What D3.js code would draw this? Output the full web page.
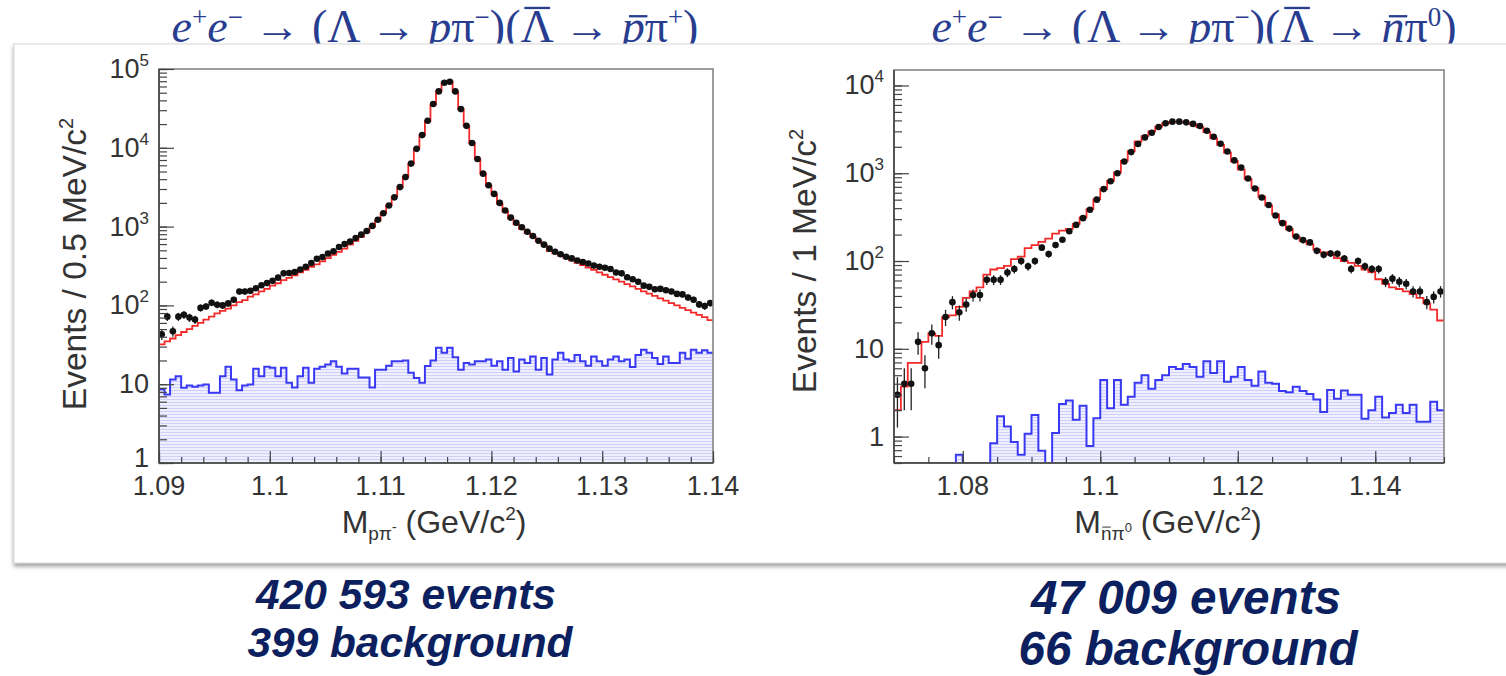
<!DOCTYPE html>
<html>
<head>
<meta charset="utf-8">
<script src="https://cdn.jsdelivr.net/npm/d3@7"></script>
<style>
body { margin: 0; background: #fff; }
svg text { font-family: "Liberation Sans", Arial, Helvetica, sans-serif; }
</style>
</head>
<body>
<div id="chart"></div>
<script>
// ---------- data ----------
// left: M(p pi-), 0.5 MeV bins
var leftRange = [1.09, 1.14];
var leftData = [43, 72, 47, 72, 76, 70, 66, 93, 97, 108,
    102, 100, 106, 118, 150, 150, 153, 165, 180, 192,
    205, 225, 255, 258, 265, 285, 310, 345, 390, 410,
    455, 485, 550, 600, 645, 715, 790, 880, 1020, 1220,
    1480, 1850, 2350, 3170, 4250, 6300, 9700, 14500, 22000, 36000,
    52000, 67000, 69000, 52000, 31000, 19000, 11500, 7200, 4700, 3350,
    2600, 2000, 1600, 1300, 1120, 980, 860, 760, 660, 590,
    525, 480, 445, 415, 395, 372, 355, 340, 320, 310,
    300, 290, 262, 255, 228, 215, 200, 178, 172, 160,
    162, 156, 150, 140, 138, 126, 118, 103, 98, 107];
var leftFit = [32, 35, 38, 42, 46, 50, 55, 60, 66, 72,
    79, 85, 91, 100, 110, 117, 129, 138, 151, 162,
    178, 191, 209, 224, 240, 263, 282, 309, 331, 363,
    398, 437, 479, 525, 589, 661, 741, 851, 1000, 1200,
    1480, 1860, 2400, 3160, 4270, 6300, 9770, 14500, 21900, 35500,
    52500, 67600, 69200, 51300, 30900, 19000, 11500, 7200, 4700, 3300,
    2570, 1950, 1550, 1260, 1070, 930, 830, 740, 660, 590,
    490, 457, 427, 398, 372, 347, 324, 302, 282, 263,
    245, 229, 214, 200, 186, 174, 162, 151, 141, 132,
    123, 115, 107, 100, 93, 87, 81, 76, 71, 65];
var leftBkg = [8.6, 7.4, 11.5, 12.6, 9.0, 9.6, 9.3, 9.6, 9.9, 7.8,
    7.8, 12.6, 16.6, 11.5, 8.4, 9.6, 9.9, 15.7, 12.6, 16.6,
    16.2, 12.6, 16.2, 10.4, 9.1, 12.6, 16.2, 10.4, 15.7, 16.6,
    17.8, 19.5, 16.6, 13.7, 15.7, 15.7, 12.2, 12.2, 9.1, 15.3,
    15.3, 17.2, 19.5, 19.5, 20, 14, 12, 10.4, 17, 20,
    29, 25, 29, 22, 15.3, 18.6, 17.8, 19.5, 19.5, 20.6,
    17.2, 19.5, 15.3, 21.5, 14.5, 20.6, 18.6, 22.5, 15.3, 21.5,
    13.3, 20.6, 25, 20.6, 19.5, 23.5, 19.5, 17.2, 22.5, 19.5,
    17.2, 20.6, 22.5, 19.5, 20.6, 16.5, 23.5, 27.4, 25, 21.5,
    18, 22.5, 18.6, 18.6, 25, 21, 27.4, 25, 27, 25];
var leftXTicks = [1.09, 1.10, 1.11, 1.12, 1.13, 1.14];
var leftYTicks = [1, 10, 100, 1000, 10000, 100000];

// right: M(nbar pi0), 1 MeV bins
var rightRange = [1.07, 1.15];
var rightData = [3, 4, 4, 12, 6, 15, 11, 23, 34, 26,
    32, 41, 41, 61, 61, 61, 74, 81, 100, 87,
    100, 142, 120, 152, 175, 218, 258, 308, 383, 500,
    660, 810, 1000, 1360, 1740, 2150, 2560, 2890, 3360, 3700,
    3870, 3870, 3800, 3650, 3450, 3050, 2600, 2170, 1770, 1400,
    1160, 870, 670, 530, 435, 330, 270, 234, 190, 173,
    163, 131, 118, 122, 121, 107, 81, 100, 87, 81,
    81, 58, 63, 58, 55, 45, 45, 34, 39, 45];
var rightFit = [2.0, 3.7, 6.9, 6.9, 12, 15, 14, 23, 24, 30,
    38, 45, 50, 70, 80, 83, 88, 105, 112, 140,
    152, 165, 180, 205, 222, 232, 265, 315, 390, 505,
    660, 820, 1020, 1380, 1780, 2300, 2650, 3000, 3400, 3700,
    3850, 3850, 3780, 3600, 3350, 2950, 2500, 2100, 1720, 1370,
    1100, 860, 680, 540, 430, 340, 280, 230, 190, 170,
    155, 135, 125, 118, 108, 100, 95, 88, 80, 75,
    62, 55, 50, 48, 45, 42, 38, 33, 28, 21];
var rightBkg = [0, 0, 0, 0, 0, 0, 0, 0, 0, 0.62,
    0, 0, 0, 0, 0.84, 1.7, 1.3, 0.87, 0.62, 1.08,
    1.76, 0.69, 0, 1.1, 2.35, 2.57, 1.55, 2.24, 0.78, 1.62,
    4.4, 2.1, 4.4, 2.3, 2.85, 4.1, 5.0, 3.5, 4.4, 5.0,
    6.2, 5.9, 6.7, 6.2, 4.8, 7.2, 5.3, 7.2, 4.2, 4.8,
    6.2, 4.4, 3.8, 5.5, 4.1, 4.0, 3.3, 3.2, 3.7, 3.3,
    3.05, 2.65, 1.9, 3.4, 2.7, 3.35, 3.0, 3.0, 1.6, 2.0,
    2.85, 1.65, 1.85, 2.3, 1.85, 2.3, 1.48, 1.48, 2.5, 2.0];
var rightXTicks = [1.08, 1.10, 1.12, 1.14];
var rightYTicks = [1, 10, 100, 1000, 10000];

var navy = "#0c1f5e";
var titleBlue = "#283d8f";

var svg = d3.select("#chart")
    .append("svg")
    .attr("width", 1506)
    .attr("height", 676);

var defs = svg.append("defs");
var hatch = defs.append("pattern")
    .attr("id", "hatch")
    .attr("patternUnits", "userSpaceOnUse")
    .attr("width", 6)
    .attr("height", 3);
hatch.append("rect").attr("width", 6).attr("height", 3).attr("fill", "#efeffe");
hatch.append("line").attr("x1", 0).attr("x2", 6).attr("y1", 0.5).attr("y2", 0.5)
    .attr("stroke", "#cfcffa").attr("stroke-width", 1);

var shadow = defs.append("filter").attr("id", "shadow")
    .attr("x", "-2%").attr("y", "-2%").attr("width", "104%").attr("height", "106%");
shadow.append("feDropShadow").attr("dx", 0).attr("dy", 3).attr("stdDeviation", 2)
    .attr("flood-color", "#777").attr("flood-opacity", 0.7);

// rich text: parts = [text, size, baseline shift, italic, bar height (em) or 0]
// bars are drawn after layout, from the glyph positions
function rich(sel, parts, color) {
    var prev = 0;
    var bars = [];
    parts.forEach(function (p) {
        var t = sel.append("tspan")
            .attr("font-size", p[1])
            .attr("dy", p[2] - prev)
            .text(p[0]);
        if (p[3]) t.attr("font-style", "italic");
        if (p[4]) bars.push({ node: t.node(), size: p[1], h: p[4], slant: p[3] ? 0.1 : 0 });
        prev = p[2];
    });
    var parent = d3.select(sel.node().parentNode);
    bars.forEach(function (b) {
        var s = b.node.getStartPositionOfChar(0);
        var e = b.node.getEndPositionOfChar(0);
        var w = e.x - s.x;
        var yb = s.y - b.h * b.size;
        var off = b.slant * b.size;
        parent.append("line")
            .attr("x1", s.x + 0.12 * w + off).attr("x2", e.x - 0.08 * w + off)
            .attr("y1", yb).attr("y2", yb)
            .attr("stroke", color).attr("stroke-width", Math.max(1, b.size * 0.05));
    });
}

// ---- titles above the panel (bottom part hidden by it)
var titleLayer = svg.append("g");
function title(cx, last) {
    var t = titleLayer.append("text")
        .attr("x", cx).attr("y", 42)
        .attr("text-anchor", "middle")
        .attr("fill", titleBlue)
        .style("font-family", "'Liberation Serif', 'DejaVu Serif', serif");
    rich(t, [["e", 46, 0, true], ["+", 27, -16], ["e", 46, 0, true], ["\u2212", 27, -16],
        ["  \u2192  (\u039B \u2192 ", 46, 0], ["p", 46, 0, true], ["\u03C0", 46, 0], ["\u2212", 27, -16],
        [")(", 46, 0], ["\u039B", 46, 0, false, 0.74], [" \u2192 ", 46, 0],
        [last[0], 46, 0, true, 0.56], ["\u03C0", 46, 0], [last[1], 27, -16],
        [")", 46, 0]], titleBlue);
}
title(435, ["p", "+"]);
title(1194, ["n", "0"]);

// ---- white panel
svg.append("rect")
    .attr("x", 14).attr("y", 44)
    .attr("width", 1520).attr("height", 519)
    .attr("fill", "#fff")
    .attr("stroke", "#dadada")
    .attr("filter", "url(#shadow)");

function drawPlot(o) {
    var g = svg.append("g");
    var x = d3.scaleLinear().domain(o.range).range([o.x0, o.x1]);
    var y = d3.scaleLog().domain(o.yDomain).range([o.y1, o.y0]).clamp(true);
    var n = o.data.length;
    var bw = (o.range[1] - o.range[0]) / n;
    var ymin = o.yDomain[0];
    var edges = d3.range(n + 1).map(function (i) { return o.range[0] + i * bw; });

    function steps(vals) {
        return edges.map(function (e, i) { return [e, vals[Math.min(i, n - 1)]]; });
    }
    var stepLine = d3.line()
        .x(function (d) { return x(d[0]); })
        .y(function (d) { return y(Math.max(d[1], ymin)); })
        .curve(d3.curveStepAfter);
    var stepArea = d3.area()
        .x(function (d) { return x(d[0]); })
        .y0(o.y1)
        .y1(function (d) { return y(Math.max(d[1], ymin)); })
        .curve(d3.curveStepAfter);

    var clipId = "clip" + o.id;
    defs.append("clipPath").attr("id", clipId)
        .append("rect")
        .attr("x", o.x0).attr("y", o.y0)
        .attr("width", o.x1 - o.x0).attr("height", o.y1 - o.y0);
    var pg = g.append("g").attr("clip-path", "url(#" + clipId + ")");

    // background histogram
    pg.append("path").datum(steps(o.bkg)).attr("d", stepArea).attr("fill", "url(#hatch)");
    pg.append("path").datum(steps(o.bkg)).attr("d", stepLine)
        .attr("fill", "none").attr("stroke", "#3939f4").attr("stroke-width", 2);

    // fit
    pg.append("path").datum(steps(o.fit)).attr("d", stepLine)
        .attr("fill", "none").attr("stroke", "#f42a2a").attr("stroke-width", 1.8);

    // data with errors
    var pts = o.data.map(function (v, i) { return { m: edges[i] + bw / 2, v: v }; });
    pg.append("g").selectAll("line")
        .data(pts)
        .join("line")
        .attr("x1", function (d) { return x(d.m); })
        .attr("x2", function (d) { return x(d.m); })
        .attr("y1", function (d) { return y(Math.max(d.v - Math.sqrt(d.v), ymin)); })
        .attr("y2", function (d) { return y(d.v + Math.sqrt(d.v)); })
        .attr("stroke", "#222").attr("stroke-width", 1.3);
    pg.append("g").selectAll("circle")
        .data(pts)
        .join("circle")
        .attr("cx", function (d) { return x(d.m); })
        .attr("cy", function (d) { return y(d.v); })
        .attr("r", 3.3)
        .attr("fill", "#111");

    // frame
    g.append("rect")
        .attr("x", o.x0).attr("y", o.y0)
        .attr("width", o.x1 - o.x0).attr("height", o.y1 - o.y0)
        .attr("fill", "none").attr("stroke", "#858585").attr("stroke-width", 1.6);

    // y ticks (log, minor 2..9)
    var yMinor = [];
    for (var dec = -1; dec <= 5; dec++) {
        for (var k = 1; k <= 9; k++) {
            var v = +(k * Math.pow(10, dec)).toPrecision(3);
            if (v >= o.yDomain[0] && v <= o.yDomain[1]) yMinor.push(v);
        }
    }
    var ya = g.append("g").attr("transform", "translate(" + o.x0 + ",0)");
    ya.append("g").call(d3.axisLeft(y).tickValues(yMinor).tickSize(-8).tickFormat(""));
    ya.append("g").call(d3.axisLeft(y).tickValues(o.yTicks).tickSize(-15).tickFormat(""));
    ya.selectAll(".domain").remove();
    ya.selectAll("line").attr("stroke", "#444").attr("stroke-width", 1.2);

    var xa = g.append("g").attr("transform", "translate(0," + o.y1 + ")");
    xa.append("g").call(d3.axisBottom(x).ticks(o.minorCount).tickSize(-6).tickFormat(""));
    xa.append("g").call(d3.axisBottom(x).tickValues(o.xTicks).tickSize(-12).tickFormat(""));
    xa.selectAll(".domain").remove();
    xa.selectAll("line").attr("stroke", "#444").attr("stroke-width", 1.2);

    // axis lines
    g.append("line").attr("x1", o.x0).attr("x2", o.x0).attr("y1", o.y0).attr("y2", o.y1)
        .attr("stroke", "#444").attr("stroke-width", 1.6);
    g.append("line").attr("x1", o.x0).attr("x2", o.x1).attr("y1", o.y1).attr("y2", o.y1)
        .attr("stroke", "#444").attr("stroke-width", 1.6);

    // tick labels
    o.yTicks.forEach(function (v) {
        var e = Math.round(Math.log10(v));
        var ty = y(v) + 9;
        if (y(v) > o.y1 - 2) ty = y(v) + 4;   // lowest label sits just above the x labels
        var t = g.append("text")
            .attr("x", o.x0 - 10)
            .attr("y", ty)
            .attr("text-anchor", "end")
            .attr("font-size", 27)
            .attr("fill", "#333");
        if (e <= 1) {
            t.text(String(v));
        } else {
            t.append("tspan").text("10");
            t.append("tspan").attr("font-size", 17).attr("dy", -12).text(e);
        }
    });
    o.xTicks.forEach(function (v) {
        g.append("text")
            .attr("x", x(v))
            .attr("y", o.y1 + 32)
            .attr("text-anchor", "middle")
            .attr("font-size", 27)
            .attr("fill", "#333")
            .text(String(+v.toFixed(2)));
    });

    // axis titles
    var yt = g.append("text")
        .attr("transform", "translate(" + o.yTitleX + "," + o.yTitleY + ") rotate(-90)")
        .attr("text-anchor", "middle")
        .attr("fill", "#333");
    rich(yt, [[o.yTitle, 33.5, 0], ["2", 20, -13]], "#333");

    var xt = g.append("text")
        .attr("x", o.xTitleX).attr("y", o.y1 + 70)
        .attr("text-anchor", "middle")
        .attr("fill", "#333");
    rich(xt, o.xTitle, "#333");
}

drawPlot({
    id: "L", range: leftRange, data: leftData, fit: leftFit, bkg: leftBkg,
    x0: 159, x1: 713, y0: 69, y1: 463, yDomain: [1, 1e5],
    xTicks: leftXTicks, yTicks: leftYTicks, minorCount: 25,
    yTitle: "Events / 0.5 MeV/c", yTitleX: 86, yTitleY: 264,
    xTitleX: 434,
    xTitle: [["M", 32, 0], ["p\u03C0", 19, 7], ["-", 14, -1], [" (GeV/c", 32, 0], ["2", 19, -13], [")", 32, 0]]
});

drawPlot({
    id: "R", range: rightRange, data: rightData, fit: rightFit, bkg: rightBkg,
    x0: 894, x1: 1444, y0: 70, y1: 463, yDomain: [0.5, 1.5e4],
    xTicks: rightXTicks, yTicks: rightYTicks, minorCount: 16,
    yTitle: "Events / 1 MeV/c", yTitleX: 816, yTitleY: 261,
    xTitleX: 1168,
    xTitle: [["M", 32, 0], ["n", 19, 7, false, 0.68], ["\u03C0", 19, 7], ["0", 13, -1], [" (GeV/c", 32, 0], ["2", 19, -13], [")", 32, 0]]
});

// ---- summary lines under the plots
var notes = [
    { t: "420 593 events", x: 406, y: 609, s: 43, w: 300 },
    { t: "399 background", x: 410, y: 657, s: 43, w: 325 },
    { t: "47 009 events", x: 1186, y: 614, s: 48, w: 310 },
    { t: "66 background", x: 1188, y: 665, s: 48, w: 339 }
];
svg.selectAll(".note")
    .data(notes)
    .join("text")
    .attr("class", "note")
    .attr("x", function (d) { return d.x; })
    .attr("y", function (d) { return d.y; })
    .attr("text-anchor", "middle")
    .attr("font-size", function (d) { return d.s; })
    .attr("font-weight", "bold")
    .attr("font-style", "italic")
    .attr("textLength", function (d) { return d.w; })
    .attr("lengthAdjust", "spacingAndGlyphs")
    .attr("fill", navy)
    .style("font-family", "'Liberation Sans Narrow', 'Liberation Sans', Arial, sans-serif")
    .text(function (d) { return d.t; });
</script>
</body>
</html>
